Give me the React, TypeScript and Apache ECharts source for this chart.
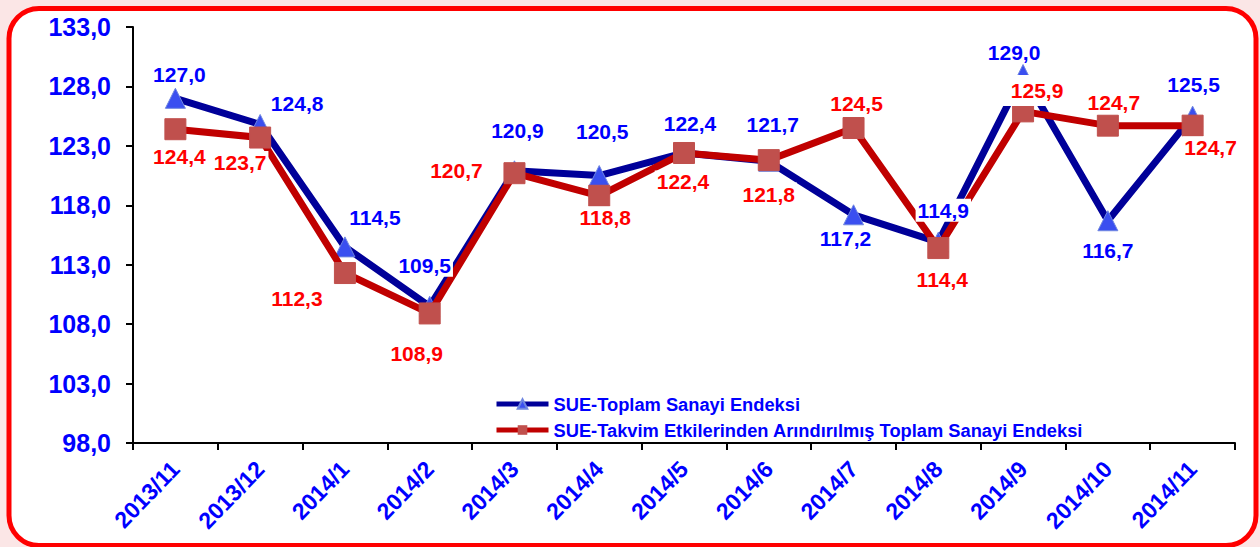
import React, { useEffect, useRef } from "react";
import * as echarts from "echarts";

const categories = ["2013/11","2013/12","2014/1","2014/2","2014/3","2014/4","2014/5","2014/6","2014/7","2014/8","2014/9","2014/10","2014/11"];
const seriesNames = ["SUE-Toplam Sanayi Endeksi", "SUE-Takvim Etkilerinden Arındırılmış Toplam Sanayi Endeksi"];
const totalIndex = [127.0,124.8,114.5,109.5,120.9,120.5,122.4,121.7,117.2,114.9,129.0,116.7,125.5];
const calendarAdjusted = [124.4,123.7,112.3,108.9,120.7,118.8,122.4,121.8,124.5,114.4,125.9,124.7,124.7];

// label offsets (layout only)
const blueOffsets = [[4,-24],[37,-21],[30,-29],[-5,-41],[3,-40],[3,-44],[6,-29],[4,-37],[-8,24],[5,-32],[-9,-22],[0,30],[1,-32]];
const redOffsets = [[4,27],[-20,25],[-48,25],[-13,40],[-58,-3],[6,22],[-1,29],[0,34],[3,-25],[4,31],[9,-21],[6,-23],[18,22]];
const redPaddings: Record<number, number[]> = { 10: [6, 4, 4, 14] };

const fmt = (v: number) => v.toFixed(1).replace(".", ",");
const FONT = "Arial, 'Liberation Sans', sans-serif";

export default function App() {
  const ref = useRef<HTMLDivElement>(null);
  useEffect(() => {
    if (!ref.current) return;
    const chart = echarts.init(ref.current, undefined, { renderer: "svg" });
    const mk = (vals: number[], offs: number[][], color: string, pads: Record<number, number[]>) =>
      vals.map((v, i) => ({
        value: v,
        label: {
          show: true,
          position: "inside",
          offset: offs[i],
          formatter: (p: any) => fmt(p.value),
          color,
          fontSize: 21,
          fontWeight: "bold",
          fontFamily: FONT,
          backgroundColor: "#ffffff",
          padding: pads[i] || [2, 2, 0, 2],
        },
      }));
    const labelSeries = (name: string, vals: number[], offs: number[][], color: string, pads: Record<number, number[]>) => ({
      name,
      type: "line",
      data: mk(vals, offs, color, pads),
      symbol: "circle",
      symbolSize: 1,
      showSymbol: true,
      itemStyle: { color: "transparent", borderWidth: 0 },
      lineStyle: { width: 0, opacity: 0 },
      silent: true,
      z: 10,
    });
    chart.setOption({
      animation: false,
      backgroundColor: "#fbe6e6",
      graphic: [
        {
          type: "rect",
          z: -100,
          shape: { x: 9, y: 8.5, width: 1247, height: 537, r: 30 },
          style: { fill: "#ffffff", stroke: "#ff0000", lineWidth: 5 },
        },
      ],
      grid: { left: 133, right: 25, top: 27, bottom: 104 },
      legend: {
        orient: "vertical",
        left: 489,
        top: 390,
        itemGap: 8,
        itemWidth: 52,
        itemHeight: 12,
        lineStyle: { width: 5 },
        textStyle: { color: "#0000ff", fontSize: 18.3, fontWeight: "bold", fontFamily: FONT },
        data: seriesNames,
      },
      xAxis: {
        type: "category",
        data: categories,
        boundaryGap: true,
        axisLine: { lineStyle: { color: "#000", width: 2 } },
        axisTick: { show: true, length: 7, lineStyle: { color: "#000", width: 2 } },
        axisLabel: {
          rotate: 46,
          color: "#0000ff",
          fontSize: 23,
          fontWeight: "bold",
          fontFamily: FONT,
          margin: 22,
          interval: 0,
        },
        splitLine: { show: false },
      },
      yAxis: {
        type: "value",
        min: 98,
        max: 133,
        interval: 5,
        axisLine: { show: true, lineStyle: { color: "#000", width: 2 } },
        axisTick: { show: true, length: 7, lineStyle: { color: "#000", width: 2 } },
        axisLabel: {
          color: "#0000ff",
          fontSize: 25,
          fontWeight: "bold",
          fontFamily: FONT,
          margin: 22,
          formatter: (v: number) => fmt(v),
        },
        splitLine: { show: false },
      },
      series: [
        {
          name: seriesNames[0],
          type: "line",
          data: totalIndex,
          symbol: "triangle",
          symbolSize: 20,
          itemStyle: { color: "#3a4ff0", borderColor: "#6f86e0", borderWidth: 1 },
          lineStyle: { color: "#000099", width: 7 },
          z: 2,
        },
        {
          name: seriesNames[1],
          type: "line",
          data: calendarAdjusted,
          symbol: "rect",
          symbolSize: 21,
          itemStyle: { color: "#c0504d", borderColor: "#c0504d" },
          lineStyle: { color: "#c00000", width: 7 },
          z: 3,
        },
        labelSeries("lblBlue", totalIndex, blueOffsets, "#0000ff", {}),
        labelSeries("lblRed", calendarAdjusted, redOffsets, "#ff0000", redPaddings),
      ],
    });
    return () => chart.dispose();
  }, []);
  return (
    <div
      ref={ref}
      style={{ position: "absolute", left: 0, top: 0, width: 1260, height: 547 }}
    />
  );
}
